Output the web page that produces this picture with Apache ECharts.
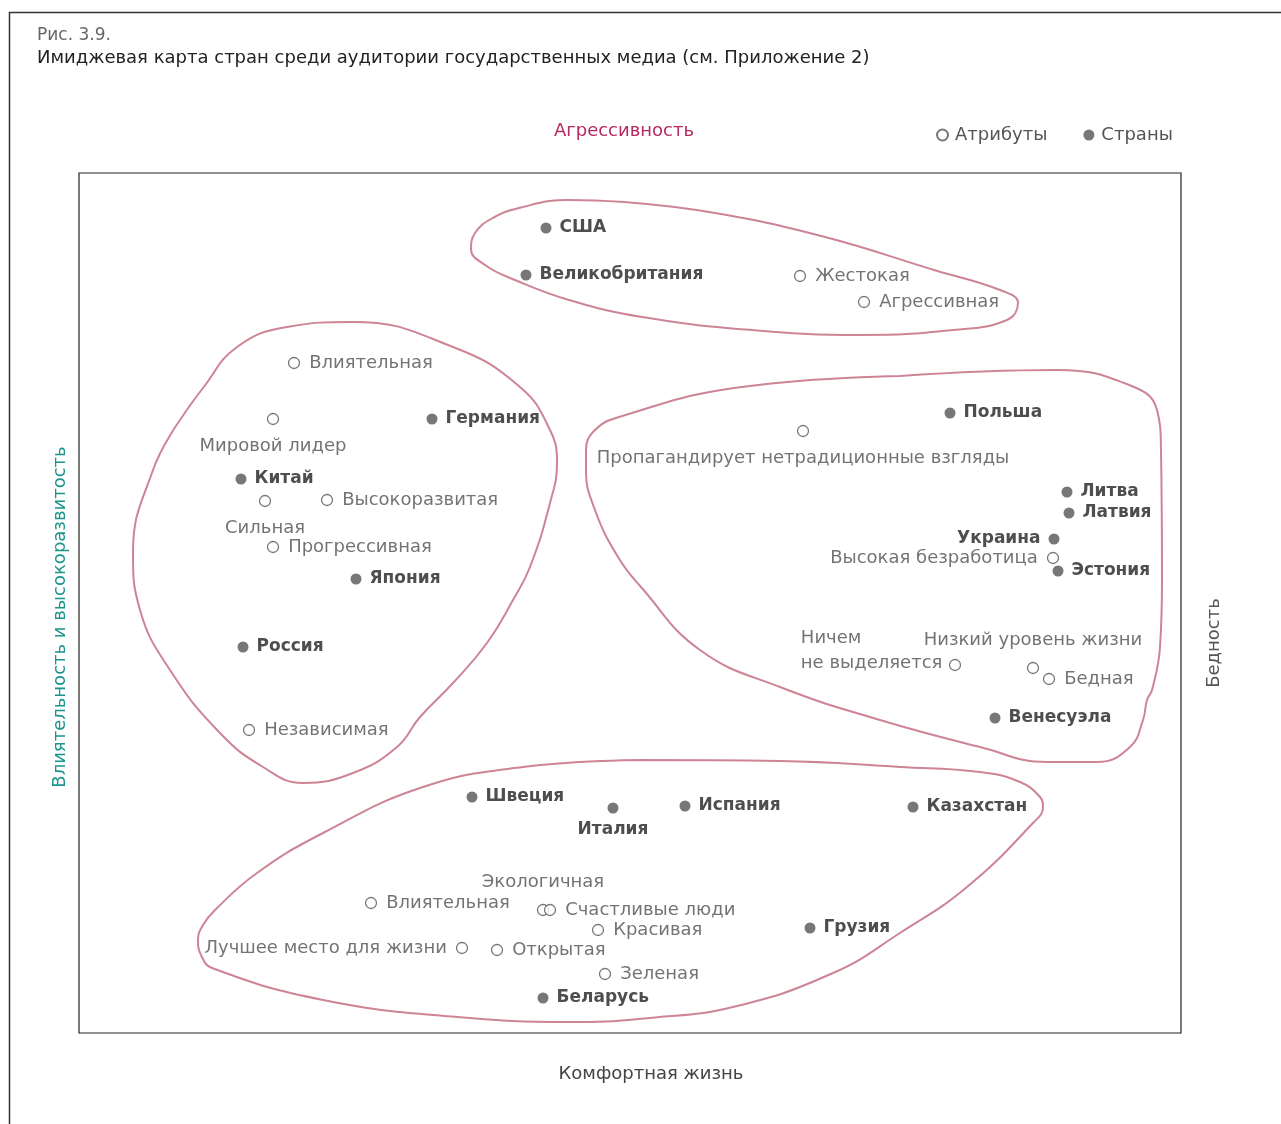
<!DOCTYPE html>
<html>
<head>
<meta charset="utf-8">
<style>
  html, body { margin: 0; padding: 0; background: #fff; }
  #chart { width: 1281px; height: 1124px; }
</style>
<script src="https://cdn.jsdelivr.net/npm/echarts@6/dist/echarts.min.js"></script>
</head>
<body>
<div id="chart"></div>
<script>
/* countries (filled dots) */
const countryNames = ['США', 'Великобритания', 'Германия', 'Китай', 'Япония', 'Россия',
  'Польша', 'Литва', 'Латвия', 'Украина', 'Эстония', 'Венесуэла',
  'Швеция', 'Италия', 'Испания', 'Казахстан', 'Грузия', 'Беларусь'];
const countryX = [467, 447, 353, 162, 277, 164, 871, 988, 990, 975, 979, 916, 393, 534, 606, 834, 731, 464];
const countryY = [805, 758, 614, 554, 454, 386, 620, 541, 520, 494, 462, 315, 236, 225, 227, 226, 105, 35];

/* attributes (hollow dots) */
const attrNames = ['Жестокая', 'Агрессивная', 'Влиятельная', 'Мировой лидер', 'Сильная', 'Высокоразвитая',
  'Прогрессивная', 'Независимая', 'Пропагандирует нетрадиционные взгляды', 'Высокая безработица',
  'Ничем\nне выделяется', 'Низкий уровень жизни', 'Бедная', 'Экологичная', 'Счастливые люди',
  'Влиятельная', 'Красивая', 'Лучшее место для жизни', 'Открытая', 'Зеленая'];
const attrX = [721, 785, 215, 194, 186, 248, 194, 170, 724, 974, 876, 954, 970, 464, 471, 292, 519, 383, 418, 526];
const attrY = [757, 731, 670, 614, 532, 533, 486, 303, 602, 475, 368, 365, 354, 123, 123, 130, 103, 85, 83, 59];

/* cluster outlines */
const outlineTop = [[545,831],[636,820],[746,796],[855,763],[921,743],[939,730],[928,713],[874,703],[782,698],
  [673,703],[563,716],[490,733],[436,753],[406,768],[392,784],[396,800],[412,814],[440,825],[490,833],[545,831]];
const outlineLeft = [[101,613],[124,645],[158,686],[208,706],[274,711],[374,686],[441,646],[471,603],[478,570],
  [471,530],[451,466],[434,433],[408,390],[374,350],[341,316],[318,286],[274,260],[224,250],[184,266],[141,300],
  [91,363],[61,423],[54,480],[74,563],[101,613]];
const outlineRight = [[821,657],[978,663],[1055,646],[1078,623],[1082,583],[1083,453],[1081,386],[1073,343],
  [1068,333],[1064,313],[1051,286],[1018,271],[968,271],[901,286],[801,313],[701,346],[621,383],[562,446],
  [539,476],[516,523],[507,563],[507,583],[516,603],[540,616],[655,645],[821,657]];
const outlineBottom = [[561,273],[701,272],[821,266],[901,261],[941,251],[961,236],[964,226],[954,210],[888,146],
  [821,100],[754,60],[654,26],[571,15],[501,11],[378,16],[244,33],[133,65],[122,78],[119,93],[124,108],
  [136,123],[178,160],[244,200],[344,246],[444,266],[561,273]];

/* label placement */
const countrySide = { 'Украина': 'left', 'Италия': 'bottom' };
const attrSide = { 3: 'bottom', 4: 'bottom', 8: 'bottom', 9: 'left', 11: 'top', 13: 'top', 17: 'left' };

const FONT = 'DejaVu Sans';
const chart = echarts.init(document.getElementById('chart'));

const countryData = countryNames.map((n, i) => ({
  name: n,
  value: [countryX[i], countryY[i]],
  label: { position: countrySide[n] || 'right' }
}));

const attrData = attrNames.map((n, i) => {
  let item = { name: n, value: [attrX[i], attrY[i]], label: { position: attrSide[i] || 'right' } };
  if (i === 10) {
    // two-line label, left-aligned, sitting to the left of the mark
    item.label = { position: [-148, -8], align: 'left', verticalAlign: 'middle' };
  }
  return item;
});

function outline(points) {
  return {
    type: 'line',
    data: points,
    smooth: 0.45,
    symbol: 'none',
    silent: true,
    z: 1,
    lineStyle: { color: '#cd8494', width: 2 }
  };
}

chart.setOption({
  animation: false,
  textStyle: { fontFamily: FONT },
  grid: {
    left: 79, top: 173, width: 1102, height: 860,
    show: true, borderColor: '#222', borderWidth: 1.2
  },
  xAxis: { type: 'value', min: 0, max: 1102, show: false },
  yAxis: { type: 'value', min: 0, max: 860, show: false },
  legend: {
    data: ['Атрибуты', 'Страны'],
    left: 931, top: 121,
    itemWidth: 11, itemHeight: 11,
    itemGap: 36,
    icon: 'circle',
    textStyle: { fontFamily: FONT, fontSize: 18, color: '#555', padding: [0, 0, 0, 2] }
  },
  graphic: [
    { type: 'rect', left: 7, top: 10, shape: { width: 1300, height: 1140 },
      style: { fill: 'none', stroke: '#333', lineWidth: 1.5 }, silent: true },
    { type: 'text', left: 37, top: 27,
      style: { text: 'Рис. 3.9.', font: '17px "DejaVu Sans"', fill: '#666' } },
    { type: 'text', left: 37, top: 49,
      style: { text: 'Имиджевая карта стран среди аудитории государственных медиа (см. Приложение 2)',
        font: '18px "DejaVu Sans"', fill: '#222' } },
    { type: 'text', x: 624, y: 131,
      style: { text: 'Агрессивность', font: '18px "DejaVu Sans"', fill: '#b52a62', align: 'center', verticalAlign: 'middle' } },
    { type: 'text', x: 651, y: 1074,
      style: { text: 'Комфортная жизнь', font: '18px "DejaVu Sans"', fill: '#444', align: 'center', verticalAlign: 'middle' } },
    { type: 'text', x: 60, y: 617, rotation: Math.PI / 2,
      style: { text: 'Влиятельность и высокоразвитость', font: '18px "DejaVu Sans"', fill: '#1a958c', align: 'center', verticalAlign: 'middle' } },
    { type: 'text', x: 1214, y: 643, rotation: Math.PI / 2,
      style: { text: 'Бедность', font: '18px "DejaVu Sans"', fill: '#555', align: 'center', verticalAlign: 'middle' } }
  ],
  series: [
    outline(outlineTop),
    outline(outlineLeft),
    outline(outlineRight),
    outline(outlineBottom),
    {
      name: 'Атрибуты',
      type: 'scatter',
      symbol: 'circle',
      symbolSize: 11,
      z: 3,
      itemStyle: { color: '#fff', borderColor: '#555', borderWidth: 1.3 },
      label: {
        show: true, formatter: '{b}', distance: 9,
        fontFamily: FONT, fontSize: 18, color: '#505050', lineHeight: 25
      },
      data: attrData
    },
    {
      name: 'Страны',
      type: 'scatter',
      symbol: 'circle',
      symbolSize: 11,
      z: 4,
      itemStyle: { color: '#555' },
      label: {
        show: true, formatter: '{b}', distance: 8,
        fontFamily: FONT, fontSize: 17, color: '#222', fontWeight: 'bold'
      },
      data: countryData
    }
  ]
});
</script>
</body>
</html>
